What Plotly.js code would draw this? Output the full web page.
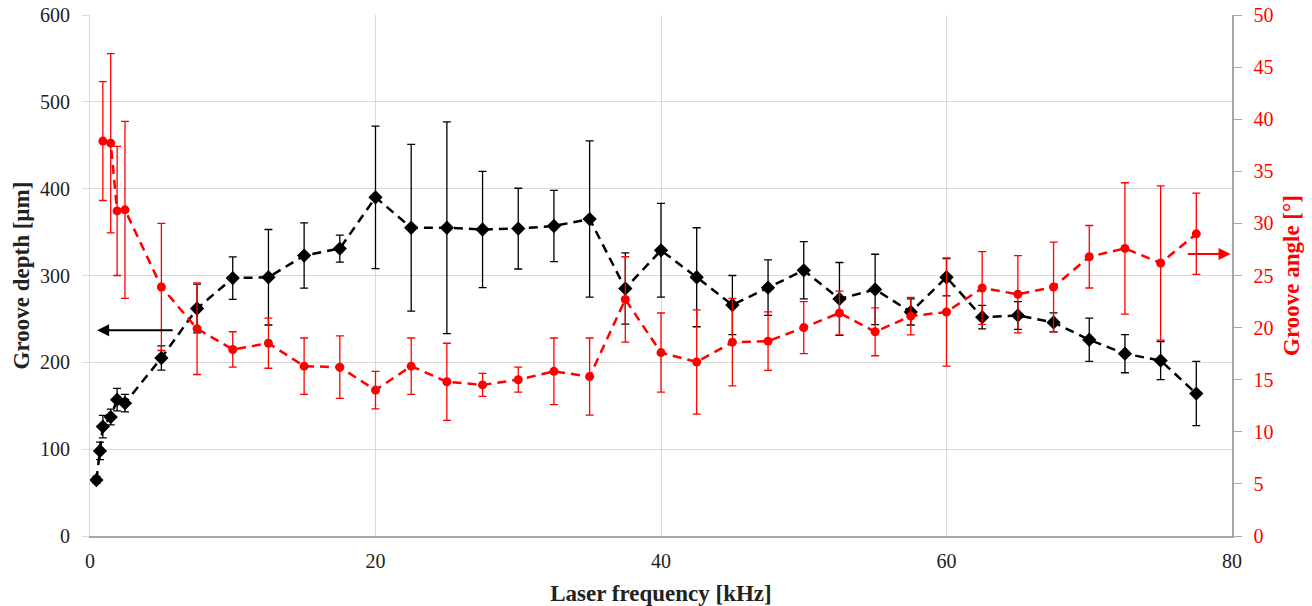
<!DOCTYPE html>
<html>
<head>
<meta charset="utf-8">
<script src="https://cdn.plot.ly/plotly-3.0.1.min.js"></script>
<style>html,body{margin:0;padding:0;background:#fff;}#chart{width:1312px;height:606px;}</style>
</head>
<body>
<div id="chart"></div>
<script>
// Laser frequency [kHz]
const freqDepth = [0.45, 0.7, 0.9, 1.45, 1.9, 2.45, 5, 7.5, 10, 12.5, 15, 17.5, 20, 22.5, 25, 27.5, 30, 32.5, 35, 37.5, 40, 42.5, 45, 47.5, 50, 52.5, 55, 57.5, 60, 62.5, 65, 67.5, 70, 72.5, 75, 77.5];
// Groove depth [µm] and its error
const depth = [64.5, 98, 126, 137, 157, 153, 205, 262, 297, 298, 323, 331, 390, 355, 355, 353, 354, 357, 365, 285, 329, 298, 266, 286, 306, 273, 284, 258, 298, 252, 254, 246, 226, 210, 202, 164];
const depthErr = [4, 10, 13, 9, 13, 10, 14, 28, 24.5, 55, 37.5, 15.5, 82, 96, 122, 67, 46.5, 41, 90, 41, 54, 57, 34, 32, 33, 42, 40.5, 15, 21.5, 13.5, 16, 11, 25, 22, 22, 37];
// Groove angle [°] and its error
const freqAngle = [0.9, 1.45, 1.9, 2.45, 5, 7.5, 10, 12.5, 15, 17.5, 20, 22.5, 25, 27.5, 30, 32.5, 35, 37.5, 40, 42.5, 45, 47.5, 50, 52.5, 55, 57.5, 60, 62.5, 65, 67.5, 70, 72.5, 75, 77.5];
const angle = [37.9, 37.7, 31.2, 31.3, 23.9, 19.9, 17.9, 18.5, 16.3, 16.2, 14.0, 16.3, 14.8, 14.5, 15.0, 15.8, 15.3, 22.7, 17.6, 16.7, 18.6, 18.7, 20.0, 21.4, 19.6, 21.1, 21.5, 23.8, 23.2, 23.9, 26.8, 27.6, 26.2, 29.0];
const angleErr = [5.7, 8.6, 6.2, 8.5, 6.1, 4.4, 1.7, 2.4, 2.7, 3.0, 1.8, 2.7, 3.7, 1.1, 1.2, 3.2, 3.7, 4.1, 3.8, 5.0, 4.2, 2.8, 2.5, 2.1, 2.3, 1.8, 5.2, 3.5, 3.7, 4.3, 3.0, 6.3, 7.4, 3.9];

const xTicks = [0, 20, 40, 60, 80];
const yTicks = [0, 100, 200, 300, 400, 500, 600];
const y2Ticks = [0, 5, 10, 15, 20, 25, 30, 35, 40, 45, 50];

const serif = "Liberation Serif, Times New Roman, serif";

const traces = [
  {
    x: freqDepth, y: depth, type: 'scatter', mode: 'lines+markers', name: 'Groove depth',
    line: {color: '#000', width: 2.5, dash: '9px,6px'},
    marker: {symbol: 'diamond', size: 11, color: '#000'},
    error_y: {type: 'data', array: depthErr, visible: true, color: '#000', thickness: 1.3, width: 4},
    yaxis: 'y'
  },
  {
    x: freqAngle, y: angle, type: 'scatter', mode: 'lines+markers', name: 'Groove angle',
    line: {color: '#ff0000', width: 2.5, dash: '9px,6px'},
    marker: {symbol: 'circle', size: 9, color: '#ff0000'},
    error_y: {type: 'data', array: angleErr, visible: true, color: '#ff0000', thickness: 1.3, width: 4},
    yaxis: 'y2'
  }
];

const layout = {
  width: 1312, height: 606,
  margin: {l: 90, r: 80, t: 15, b: 70},
  paper_bgcolor: '#fff', plot_bgcolor: '#fff',
  showlegend: false,
  font: {family: serif, size: 20, color: '#000'},
  xaxis: {
    range: [0, 80], tickvals: xTicks, ticktext: xTicks.map(String),
    showgrid: true, gridcolor: '#d9d9d9', gridwidth: 1,
    showline: true, linecolor: '#a6a6a6', linewidth: 1.5, mirror: false,
    ticks: '', zeroline: false, ticklabelstandoff: 6,
    tickfont: {family: serif, size: 20, color: '#222'},
    title: {text: '<b>Laser frequency [kHz]</b>', font: {family: serif, size: 23, color: '#222'}, standoff: 14}
  },
  yaxis: {
    range: [0, 600], tickvals: yTicks, ticktext: yTicks.map(String),
    showgrid: true, gridcolor: '#d9d9d9', gridwidth: 1,
    showline: true, linecolor: '#d9d9d9', linewidth: 1,
    ticks: 'outside', ticklen: 7, tickcolor: '#d9d9d9',
    zeroline: false, ticklabelstandoff: 8,
    tickfont: {family: serif, size: 20, color: '#222'},
    title: {text: '<b>Groove depth [µm]</b>', font: {family: serif, size: 23, color: '#222'}, standoff: 3}
  },
  yaxis2: {
    range: [0, 50], tickvals: y2Ticks, ticktext: y2Ticks.map(String),
    overlaying: 'y', side: 'right', showgrid: false,
    showline: true, linecolor: '#a6a6a6', linewidth: 1.5,
    ticks: 'outside', ticklen: 8, tickcolor: '#a6a6a6',
    zeroline: false, ticklabelstandoff: 8,
    tickfont: {family: serif, size: 20, color: '#ff0000'},
    title: {text: '<b>Groove angle [°]</b>', font: {family: serif, size: 23, color: '#ff0000'}, standoff: 10}
  },
  annotations: [
    {x: 0.5, y: 237, ax: 5.9, ay: 237, xref: 'x', yref: 'y', axref: 'x', ayref: 'y',
     showarrow: true, arrowhead: 2, arrowsize: 1.2, arrowwidth: 2, arrowcolor: '#000', text: ''},
    {x: 79.9, y: 27.06, ax: 76.8, ay: 27.06, xref: 'x', yref: 'y2', axref: 'x', ayref: 'y2',
     showarrow: true, arrowhead: 2, arrowsize: 1.2, arrowwidth: 2, arrowcolor: '#ff0000', text: ''}
  ]
};

Plotly.newPlot('chart', traces, layout, {displayModeBar: false, staticPlot: true});
</script>
</body>
</html>
